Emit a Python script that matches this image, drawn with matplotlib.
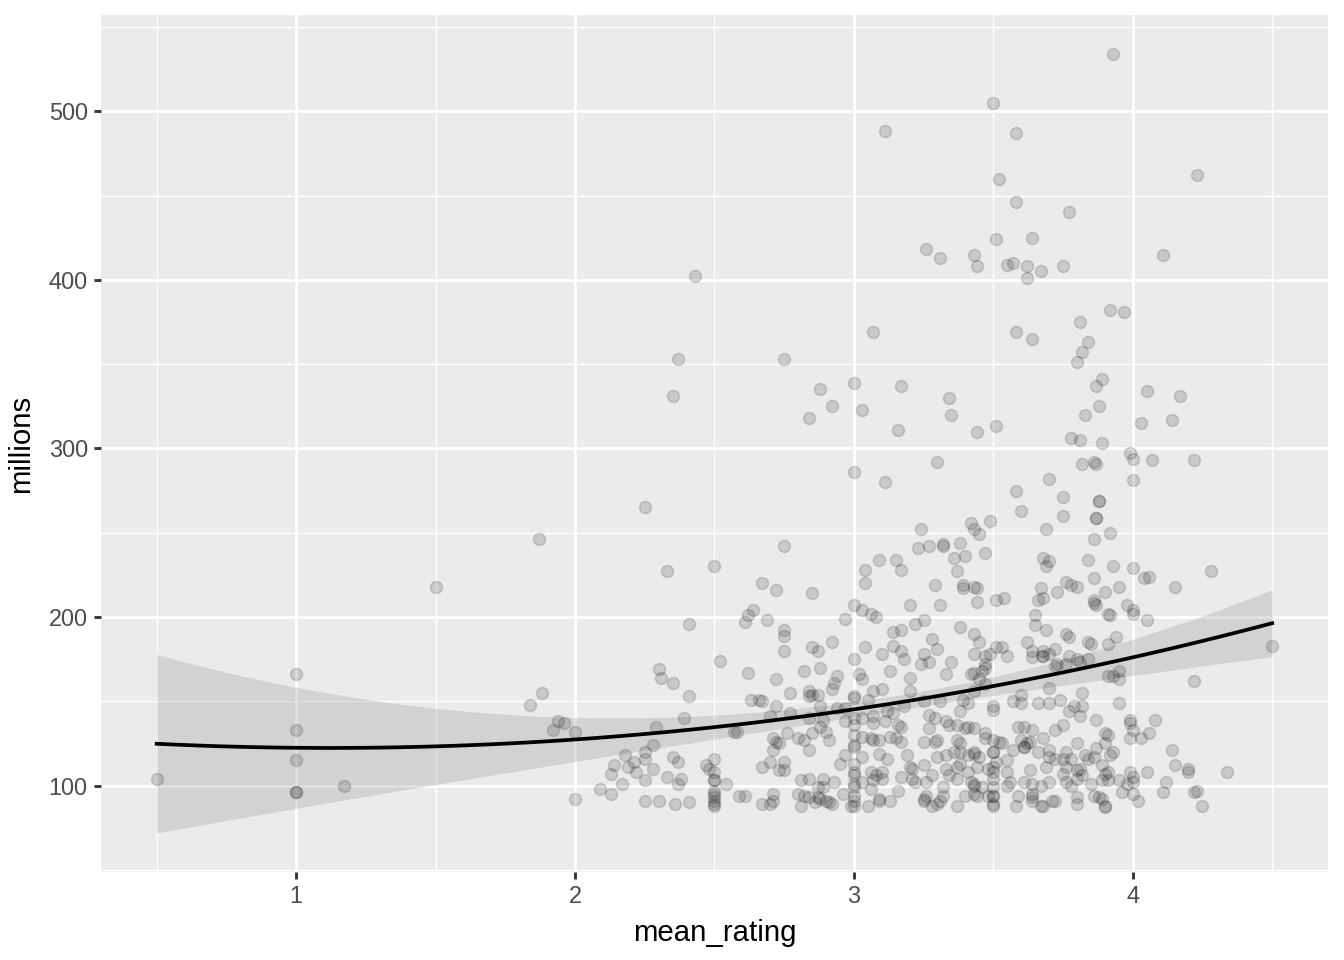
import numpy as np
import matplotlib.pyplot as plt

plt.rcParams['font.family'] = ['Liberation Sans', 'DejaVu Sans']

# points (mean_rating, millions)
left_x = [0.5, 1, 1, 1, 1, 1, 1.17, 1.5, 1.84, 1.88, 1.87, 1.94, 1.96, 1.92, 2.0, 2.0, 2.09]
left_y = [104, 166, 133, 115, 96, 96, 100, 218, 148, 155, 246, 138, 137, 133, 132, 92, 98]

b_x = [2.33, 2.5, 2.41, 2.30, 2.31, 2.35, 2.41, 2.52, 2.39, 2.29, 2.28, 2.25, 2.18, 2.21, 2.25,
       2.14, 2.19, 2.22, 2.28, 2.13, 2.35, 2.37, 2.25, 2.17, 2.33, 2.38, 2.37, 2.13, 2.25, 2.30,
       2.36, 2.41, 2.47, 2.48, 2.50, 2.50, 2.5, 2.5, 2.5, 2.5, 2.5, 2.5, 2.5, 2.5]
b_y = [227, 230, 196, 169, 164, 161, 153, 174, 140, 135, 124, 120, 118, 114, 116,
       112, 111, 108, 110, 107, 117, 114, 103, 101, 105, 104, 101, 95, 91, 91,
       89, 90, 112, 110, 116, 108, 103, 103, 97, 95, 93, 91, 89, 88]

c_x = [2.67, 2.72, 2.85, 2.64, 2.62, 2.61, 2.69, 2.75, 2.75, 2.75, 2.85, 2.87, 2.92, 2.97, 2.62,
       2.72, 2.82, 2.88, 2.94, 2.93, 2.92, 2.77, 2.84, 2.84, 2.85, 2.87, 2.63, 2.66, 2.67, 2.72,
       2.88, 2.94, 2.97, 2.70, 2.77, 2.84, 2.89, 2.88, 2.57, 2.58, 2.76, 2.90, 2.85, 2.71, 2.72,
       2.73, 2.80, 2.82, 2.91, 2.71, 2.84, 2.70, 2.75, 2.95, 2.97, 2.67, 2.73, 2.75, 2.54, 2.81,
       2.84, 2.89, 2.93, 2.87, 2.89, 2.80, 2.82, 2.84, 2.87, 2.88, 2.90, 2.91, 2.92, 2.96, 2.59,
       2.61, 2.67, 2.70, 2.71, 2.81, 2.86, 2.71]
c_y = [220, 216, 214, 204, 201, 197, 198, 192, 189, 180, 182, 180, 185, 199, 167,
       163, 168, 170, 165, 161, 157, 155, 156, 153, 154, 154, 151, 151, 150, 147,
       147, 146, 146, 141, 143, 140, 139, 135, 132, 132, 131, 132, 131, 128, 126,
       125, 128, 127, 127, 121, 121, 114, 114, 113, 118, 111, 109, 109, 101, 103,
       104, 104, 102, 99, 99, 95, 94, 93, 93, 92, 91, 90, 89, 95, 94,
       94, 89, 89, 91, 88, 90, 95]

d_x = [3.04, 3.17, 3.09, 3.15, 3.04, 3.37, 3.29, 3.39, 3.39, 3.44, 3.44, 3.0, 3.03, 3.06, 3.08,
       3.20, 3.31, 3.25, 3.22, 3.38, 3.43, 3.14, 3.17, 3.28, 3.04, 3.14, 3.17, 3.18, 3.10, 3.30,
       3.25, 3.27, 3.24, 3.35, 3.43, 3.0, 3.13, 3.02, 3.03, 3.20, 3.33, 3.42, 3.10, 3.07, 3.20,
       3.0, 3.0, 3.05, 3.31, 3.25, 3.39, 3.41, 3.12, 3.14, 3.18, 3.38, 3.27, 3.29, 3.0, 2.97,
       3.03, 3.07, 3.07, 3.11, 3.16, 3.17, 3.27, 3.33, 3.34, 3.37, 3.40, 3.41, 3.0, 3.0, 3.0,
       3.0, 3.03, 3.06, 3.07, 3.09, 3.13, 3.15, 3.17, 3.25, 3.30, 3.29, 3.37, 3.38, 3.38, 3.36,
       3.43, 3.03, 3.09, 3.12, 3.19, 3.30, 3.33, 3.41, 3.0, 3.0, 3.0, 3.0, 3.0, 3.0, 3.0,
       3.0, 2.99, 3.20, 3.21, 3.25, 3.33, 3.37, 3.38, 3.41, 3.06, 3.08, 3.10, 3.10, 3.03, 3.07,
       3.17, 3.21, 3.22, 3.28, 3.34, 3.37, 3.42, 3.43, 3.16, 3.26, 3.32, 3.05, 3.06, 3.09, 3.09,
       3.13, 3.25, 3.25, 3.26, 3.30, 3.31, 3.32, 3.28, 3.37, 3.40, 3.43]
d_y = [228, 228, 234, 234, 220, 227, 219, 219, 217, 217, 209, 207, 204, 202, 200,
       207, 207, 198, 196, 194, 190, 191, 192, 187, 182, 183, 180, 175, 178, 181,
       178, 173, 172, 173, 178, 175, 168, 166, 163, 164, 166, 166, 157, 156, 156,
       153, 152, 151, 150, 150, 151, 149, 144, 143, 147, 144, 142, 140, 140, 138,
       140, 141, 137, 138, 136, 135, 134, 138, 136, 136, 134, 135, 136, 130, 124,
       123, 129, 128, 127, 127, 129, 128, 126, 126, 127, 126, 127, 125, 120, 120,
       119, 117, 119, 116, 118, 117, 118, 118, 113, 108, 106, 101, 99, 94, 91,
       88, 88, 111, 110, 112, 110, 111, 113, 108, 108, 106, 108, 104, 102, 103,
       105, 104, 102, 106, 106, 104, 102, 101, 97, 102, 99, 88, 98, 92, 91,
       91, 92, 91, 94, 89, 91, 94, 88, 88, 94, 95]

e_x = [3.69, 3.70, 3.84, 3.86, 3.90, 3.67, 3.73, 3.76, 3.78, 3.80, 3.43, 3.51, 3.54, 3.66, 3.68,
       3.86, 3.86, 3.87, 3.91, 3.65, 3.65, 3.69, 3.45, 3.76, 3.77, 3.84, 3.85, 3.91, 3.62, 3.64,
       3.64, 3.51, 3.53, 3.55, 3.49, 3.47, 3.68, 3.70, 3.68, 3.72, 3.675, 3.47, 3.47, 3.46, 3.43,
       3.45, 3.72, 3.77, 3.76, 3.80, 3.81, 3.84, 3.73, 3.91, 3.47, 3.43, 3.60, 3.70, 3.82, 3.57,
       3.60, 3.66, 3.70, 3.74, 3.79, 3.82, 3.77, 3.81, 3.87, 3.50, 3.50, 3.43, 3.47, 3.47, 3.50,
       3.52, 3.53, 3.59, 3.61, 3.64, 3.60, 3.63, 3.62, 3.68, 3.72, 3.75, 3.43, 3.45, 3.50, 3.50,
       3.51, 3.57, 3.55, 3.61, 3.61, 3.66, 3.70, 3.70, 3.72, 3.75, 3.76, 3.78, 3.80, 3.83, 3.84,
       3.86, 3.87, 3.90, 3.90, 3.44, 3.48, 3.50, 3.50, 3.50, 3.55, 3.63, 3.69, 3.75, 3.76, 3.80,
       3.81, 3.82, 3.89, 3.91, 3.43, 3.46, 3.50, 3.50, 3.50, 3.50, 3.55, 3.56, 3.61, 3.64, 3.67,
       3.70, 3.76, 3.78, 3.80, 3.85, 3.91, 3.44, 3.48, 3.59, 3.64, 3.64, 3.64, 3.67, 3.68, 3.71,
       3.72, 3.80, 3.80, 3.86, 3.88, 3.90, 3.58, 3.50]
e_y = [230, 233, 234, 223, 215, 217, 215, 221, 219, 218, 218, 210, 211, 210, 211,
       210, 208, 207, 202, 201, 195, 192, 185, 190, 188, 185, 184, 184, 185, 180,
       176, 182, 182, 177, 178, 177, 180, 178, 177, 181, 177, 172, 170, 168, 167,
       163, 171, 177, 172, 175, 173, 175, 172, 165, 160, 156, 154, 158, 155, 150,
       149, 149, 149, 151, 147, 147, 144, 141, 139, 145, 147, 134, 131, 128, 127,
       126, 125, 135, 135, 133, 127, 126, 125, 128, 133, 136, 120, 117, 120, 120,
       114, 121, 115, 123, 123, 120, 117, 121, 116, 116, 120, 116, 125, 118, 116,
       117, 122, 131, 125, 111, 110, 111, 108, 104, 108, 109, 111, 107, 111, 109,
       110, 106, 112, 108, 100, 99, 99, 94, 94, 89, 100, 102, 102, 101, 100,
       102, 102, 100, 104, 101, 103, 94, 94, 94, 93, 95, 91, 88, 88, 91,
       91, 93, 89, 94, 93, 88, 88, 88]

f_x = [3.93, 4.0, 4.04, 4.06, 4.15, 4.28, 3.95, 3.98, 4.0, 4.0, 4.05, 3.92, 3.94, 4.5, 3.95,
       3.93, 3.95, 4.22, 3.95, 3.99, 3.99, 4.0, 4.08, 4.06, 4.03, 3.99, 3.91, 3.93, 3.92, 4.14,
       4.15, 4.20, 4.20, 4.34, 4.05, 3.99, 4.0, 3.95, 3.98, 4.0, 3.90, 3.89, 4.12, 3.96, 4.0,
       4.02, 4.11, 4.22, 4.23, 4.25, 3.90, 3.89]
f_y = [230, 229, 223, 224, 218, 227, 218, 207, 204, 202, 198, 201, 188, 183, 168,
       165, 163, 162, 149, 139, 137, 133, 139, 131, 128, 128, 130, 120, 118, 121,
       112, 108, 110, 108, 108, 108, 105, 103, 101, 102, 107, 103, 102, 96, 95,
       91, 96, 96, 97, 88, 87, 92]

top_x = [3.93, 3.50, 3.11, 3.58, 4.23, 3.52, 3.58, 3.77, 3.64, 3.51, 3.26, 3.31, 3.43, 3.44, 3.55,
         3.57, 3.62, 3.67, 3.62, 3.75, 4.11, 2.43, 2.37, 2.75, 3.07, 2.35, 2.88, 2.92, 2.84, 3.0,
         3.03, 3.17, 3.16, 3.0, 3.11, 3.30, 2.25, 3.24, 3.23, 3.27, 2.75,
         3.92, 3.97, 3.81, 3.58, 3.64, 3.84, 3.82, 3.80, 3.89, 3.87, 4.05, 4.17, 3.34, 3.35, 3.88,
         3.83, 4.03, 4.14, 3.44, 3.51, 3.78, 3.81, 3.89, 3.82, 3.86, 3.87, 3.99, 4.0, 4.07, 4.22,
         4.0, 3.70, 3.58, 3.75, 3.60, 3.88, 3.88, 3.75, 3.87, 3.87, 3.49, 3.42, 3.43, 3.45, 3.69,
         3.92, 3.86, 3.32, 3.32, 3.38, 3.36, 3.40, 3.47, 3.68]
top_y = [534, 505, 488, 487, 462, 460, 446, 440, 425, 424, 418, 413, 415, 408, 409,
         410, 408, 405, 401, 408, 415, 402, 353, 353, 369, 331, 335, 325, 318, 339,
         323, 337, 311, 286, 280, 292, 265, 252, 241, 242, 242,
         382, 381, 375, 369, 365, 363, 357, 351, 341, 337, 334, 331, 330, 320, 325,
         320, 315, 317, 310, 313, 306, 305, 303, 291, 292, 291, 297, 294, 293, 293,
         281, 282, 275, 271, 263, 269, 269, 260, 259, 259, 257, 256, 252, 249, 252,
         250, 246, 243, 242, 244, 235, 236, 238, 235]

# smoother (quadratic trend with its 95% band)
smooth_x = [0.5, 1.0, 1.5, 2.0, 2.5, 3.0, 3.5, 4.0, 4.5]
smooth_y = [125.3, 122.3, 122.3, 127.0, 135.5, 145.0, 159.5, 176.0, 196.0]
band_lo = [72.8, 86.0, 100.6, 114.0, 126.8, 138.6, 153.4, 167.3, 175.5]
band_hi = [178.5, 158.8, 144.6, 139.6, 141.6, 150.5, 165.3, 187.0, 215.6]

mean_rating = np.array(left_x + b_x + c_x + d_x + e_x + f_x + top_x, dtype=float)
millions = np.array(left_y + b_y + c_y + d_y + e_y + f_y + top_y, dtype=float)

sx = np.array(smooth_x)
xs = np.linspace(sx.min(), sx.max(), 120)
fit = np.polyval(np.polyfit(sx, smooth_y, 2), xs)
hw2 = ((np.array(band_hi) - np.array(band_lo)) / 2) ** 2
hw = np.sqrt(np.clip(np.polyval(np.polyfit(sx, hw2, 4), xs), 1, None))
lo = fit - hw
hi = fit + hw

fig = plt.figure(figsize=(7, 5), dpi=192)
ax = fig.add_axes([0.0751, 0.0917, 0.9129, 0.8927])
ax.set_facecolor('#EBEBEB')

ax.fill_between(xs, lo, hi, color='#999999', alpha=0.3, linewidth=0, zorder=2)
ax.scatter(mean_rating, millions, s=20, facecolor=(0, 0, 0, 0.14),
           edgecolor=(0, 0, 0, 0.14), linewidth=0.6, zorder=3)
ax.plot(xs, fit, color='black', linewidth=1.4, zorder=4)

# ggplot-like limits (5% expansion)
xr = mean_rating.max() - mean_rating.min()
ax.set_xlim(mean_rating.min() - 0.05 * xr, mean_rating.max() + 0.05 * xr)
ymin = min(millions.min(), lo.min())
ymax = max(millions.max(), hi.max())
yr = ymax - ymin
ax.set_ylim(ymin - 0.05 * yr, ymax + 0.05 * yr)

ax.set_xticks([1, 2, 3, 4])
ax.set_yticks([100, 200, 300, 400, 500])
ax.set_xticks([0.5, 1.5, 2.5, 3.5, 4.5], minor=True)
ax.set_yticks([50, 150, 250, 350, 450, 550], minor=True)
ax.grid(True, which='major', color='white', linewidth=1.07, zorder=0)
ax.grid(True, which='minor', color='white', linewidth=0.53, zorder=0)
ax.set_axisbelow(True)
for sp in ax.spines.values():
    sp.set_visible(False)
ax.tick_params(which='major', length=2.75, width=1.07, color='#333333',
               labelsize=8.8, labelcolor='#4D4D4D', pad=2.2)
ax.tick_params(which='minor', length=0)

ax.set_xlabel('mean_rating', fontsize=11, color='black', labelpad=4)
ax.set_ylabel('millions', fontsize=11, color='black', labelpad=5)

fig.savefig('out.png', dpi=192, facecolor='white')
